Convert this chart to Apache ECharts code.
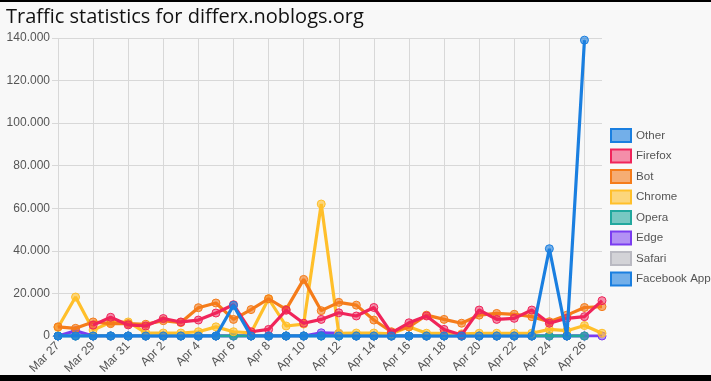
<!DOCTYPE html>
<html>
<head>
<meta charset="utf-8">
<script src="https://cdn.jsdelivr.net/npm/echarts@6/dist/echarts.min.js"></script>
<style>
html,body{margin:0;padding:0;background:#f8f8f8;}
#c{width:711px;height:381px;}
</style>
</head>
<body>
<div id="c"></div>
<script>
const categories = ["Mar 27","Mar 28","Mar 29","Mar 30","Mar 31","Apr 1","Apr 2","Apr 3","Apr 4","Apr 5","Apr 6","Apr 7","Apr 8","Apr 9","Apr 10","Apr 11","Apr 12","Apr 13","Apr 14","Apr 15","Apr 16","Apr 17","Apr 18","Apr 19","Apr 20","Apr 21","Apr 22","Apr 23","Apr 24","Apr 25","Apr 26","Apr 27"];
const yTicks = [0, 20000, 40000, 60000, 80000, 100000, 120000, 140000];

const other   = [0,0,0,0,0,0,0,0,0,0,14400,0,0,0,0,0,0,0,0,0,0,0,0,0,0,0,0,0,41000,0,139000,null];
const firefox = [null,null,5100,8800,5200,4700,8200,6600,7500,10800,14700,2000,3100,12100,6000,7800,10900,9400,13400,1500,6200,9400,3100,500,12200,7800,8300,12200,6000,8300,9100,16600];
const bot     = [4300,3600,6600,5800,5800,5500,7200,6300,13300,15500,7800,12400,17500,12500,26600,11900,15800,14500,7500,2000,4300,9800,7800,6000,9800,10600,10200,9100,6700,9800,13400,13800];
const chrome  = [4000,18300,2800,6400,6600,1500,1400,1400,2000,4300,2000,1500,17500,4700,5600,62000,1300,1400,1400,1000,4300,1300,1300,1000,1300,1300,1300,1300,3100,2500,4900,1300];
const opera   = [0,0,0,0,0,0,0,0,0,0,0,0,0,0,0,0,0,0,0,0,0,0,0,0,0,0,0,0,0,0,0,null];
const edge    = [0,2500,0,0,0,0,0,0,0,0,0,0,0,0,0,1500,1200,0,0,0,0,0,0,0,0,0,0,0,0,0,0,0];
const safari  = [0,0,0,0,0,0,0,0,0,0,0,0,0,0,0,300,300,300,0,0,0,0,0,0,0,0,0,0,0,0,0,null];
const facebook= [0,0,0,0,0,0,0,0,0,0,0,0,0,0,0,0,0,0,0,0,0,0,0,0,0,0,0,0,0,0,0,null];

const names = ["Other","Firefox","Bot","Chrome","Opera","Edge","Safari","Facebook App"];
const datas = [other, firefox, bot, chrome, opera, edge, safari, facebook];
const lineCols = ["#1a7fe0","#f0245a","#f57c1a","#ffbf2a","#22a89e","#7a3cf0","#babac2","#1a7fe0"];
const fillCols = ["rgba(26,127,224,0.6)","rgba(240,36,90,0.5)","rgba(245,124,26,0.6)","rgba(255,191,42,0.6)","rgba(34,168,158,0.6)","rgba(122,60,240,0.55)","rgba(186,186,194,0.6)","rgba(26,127,224,0.6)"];

const series = names.map((n, i) => ({
  name: n,
  type: 'line',
  data: datas[i],
  z: 20 - i,
  symbol: 'circle',
  symbolSize: 8,
  showSymbol: true,
  connectNulls: false,
  lineStyle: {width: 3.2, color: lineCols[i]},
  itemStyle: {color: fillCols[i], borderColor: lineCols[i], borderWidth: 1},
  emphasis: {disabled: true},
  animation: false
}));

const chart = echarts.init(document.getElementById('c'));
chart.setOption({
  backgroundColor: '#f8f8f8',
  animation: false,
  title: {
    text: 'Traffic statistics for differx.noblogs.org',
    left: 1, top: 2,
    textStyle: {fontFamily: 'Open Sans', fontSize: 20, fontWeight: 'normal', color: '#111'}
  },
  legend: {
    orient: 'vertical',
    left: 605, top: 123,
    itemWidth: 20, itemHeight: 13, itemGap: 5.5,
    icon: 'rect',
    textStyle: {fontFamily: 'Liberation Sans', fontSize: 11.6, color: '#555'},
    data: names.map((n, i) => ({name: n, itemStyle: {color: fillCols[i], borderColor: lineCols[i], borderWidth: 2}}))
  },
  grid: {left: 58, right: 109, top: 38, bottom: 45, containLabel: false},
  xAxis: {
    type: 'category',
    data: categories,
    boundaryGap: false,
    axisLine: {show: false},
    axisTick: {show: true, interval: 1, length: 6, lineStyle: {color: '#d8d8d8'}},
    axisLabel: {interval: 1, rotate: 45, fontFamily: 'Liberation Sans', fontSize: 12, color: '#555', margin: 8},
    splitLine: {show: true, interval: 1, lineStyle: {color: '#d8d8d8'}}
  },
  yAxis: {
    type: 'value',
    min: yTicks[0], max: yTicks[yTicks.length - 1], interval: 20000,
    axisLine: {show: false},
    axisTick: {show: true, length: 6, lineStyle: {color: '#d8d8d8'}},
    axisLabel: {
      fontFamily: 'Liberation Sans', fontSize: 12, color: '#555', margin: 8,
      formatter: v => v === 0 ? '0' : String(v).replace(/\B(?=(\d{3})+(?!\d))/g, '.')
    },
    splitLine: {show: true, lineStyle: {color: '#d8d8d8'}}
  },
  graphic: [
    {type: 'rect', shape: {x: 0, y: 0, width: 711, height: 2}, style: {fill: '#000'}, z: 100},
    {type: 'rect', shape: {x: 0, y: 375, width: 711, height: 6}, style: {fill: '#000'}, z: 100}
  ],
  series: series
});
</script>
</body>
</html>
